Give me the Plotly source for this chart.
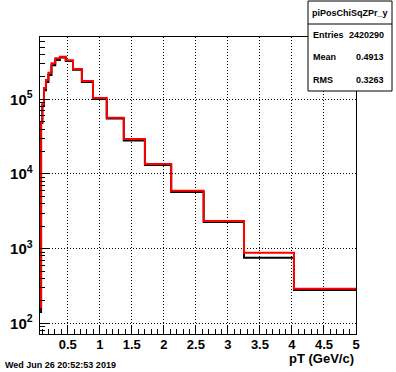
import plotly.graph_objects as go

# Bin edges (pT, GeV/c) and contents
bin_edges = [0.068, 0.084, 0.104, 0.129, 0.160, 0.198, 0.246, 0.305, 0.378, 0.469,
             0.582, 0.721, 0.894, 1.109, 1.375, 1.705, 2.115, 2.622, 3.252, 4.032, 5.0]
red_counts = [165, 49700, 86500, 141700, 181000, 227000, 303000, 354000, 372000, 333000,
              254000, 176000, 104000, 56800, 29400, 13600, 5980, 2340, 883, 291]
black_counts = [142, 48000, 83000, 132000, 170000, 212000, 285000, 335000, 362000, 325000,
                248000, 170600, 101000, 55500, 28100, 13200, 5740, 2270, 757, 279]

stats_title = "piPosChiSqZPr_y"
stats_labels = ["Entries", "Mean", "RMS"]
stats_values = ["2420290", "0.4913", "0.3263"]
date_text = "Wed Jun 26 20:52:53 2019"
x_title = "pT (GeV/c)"

W, H = 396, 372
L, R, T, B = 40, 356, 37, 334


def px(x):
    return (x - L) / (R - L)


def py(y):
    return (B - y) / (B - T)


fig = go.Figure()
fig.add_trace(go.Scatter(x=bin_edges, y=black_counts + [black_counts[-1]], mode="lines",
                         line=dict(color="black", width=2, shape="hv"), hoverinfo="skip"))
fig.add_trace(go.Scatter(x=bin_edges, y=red_counts + [red_counts[-1]], mode="lines",
                         line=dict(color="#ff0000", width=2, shape="hv"), hoverinfo="skip"))

font_x = dict(family="Liberation Sans, Arial, sans-serif", size=13, color="black", weight="bold")
font_y = dict(family="Liberation Sans, Arial, sans-serif", size=12, color="black", weight="bold")

fig.update_layout(
    width=W, height=H,
    margin=dict(l=L, r=W - R, t=T, b=H - B, pad=0),
    paper_bgcolor="white", plot_bgcolor="white",
    showlegend=False,
    xaxis=dict(range=[0.067, 5.0], tick0=0, dtick=0.5, ticks="inside", ticklen=9,
               tickcolor="black", tickwidth=1, showline=True, linecolor="black", linewidth=1,
               mirror=True, showgrid=True, gridcolor="black", griddash="1px,2px", gridwidth=1,
               zeroline=False, tickfont=font_x, automargin=False, ticklabelstandoff=-2,
               minor=dict(dtick=0.1, ticks="inside", ticklen=5, tickcolor="black", showgrid=False)),
    yaxis=dict(type="log", range=[1.857, 5.834], dtick=1, exponentformat="power",
               ticks="inside", ticklen=10, tickcolor="black", tickwidth=1,
               showline=True, linecolor="black", linewidth=1, mirror=True,
               showgrid=True, gridcolor="black", griddash="1px,2px", gridwidth=1,
               zeroline=False, tickfont=font_y, ticklabelstandoff=4, automargin=False,
               minor=dict(dtick="D1", ticks="inside", ticklen=5, tickcolor="black", showgrid=False)),
)

# stats box
bx0, bx1, by0, by1 = 308, 392, 1, 91
fig.add_shape(type="rect", xref="paper", yref="paper", x0=px(bx0), x1=px(bx1), y0=py(by1), y1=py(by0),
              fillcolor="white", line=dict(color="black", width=1), layer="above")
fig.add_shape(type="line", xref="paper", yref="paper", x0=px(bx0), x1=px(bx1), y0=py(24), y1=py(24),
              line=dict(color="black", width=1), layer="above")

small = dict(family="Liberation Sans, Arial, sans-serif", size=9, color="black", weight="bold")
fig.add_annotation(xref="paper", yref="paper", x=px((bx0 + bx1) / 2), y=py(13), text=stats_title,
                   showarrow=False, xanchor="center", yanchor="middle", font=small)
rows_y = [35, 57, 80]
for lab, val, yy in zip(stats_labels, stats_values, rows_y):
    fig.add_annotation(xref="paper", yref="paper", x=px(311), y=py(yy), text=lab, showarrow=False,
                       xanchor="left", yanchor="middle", font=small)
    fig.add_annotation(xref="paper", yref="paper", x=px(386), y=py(yy), text=val, showarrow=False,
                       xanchor="right", yanchor="middle", font=small)

# axis title
fig.add_annotation(xref="paper", yref="paper", x=px(356), y=py(358), text=x_title, showarrow=False,
                   xanchor="right", yanchor="middle", font=font_x)
# date
fig.add_annotation(xref="paper", yref="paper", x=px(3), y=py(365), text=date_text, showarrow=False,
                   xanchor="left", yanchor="middle",
                   font=dict(family="Liberation Sans, Arial, sans-serif", size=9, color="black", weight="bold"))

fig.write_html("out.html", config={"displayModeBar": False},
               post_script="document.body.style.margin='0';document.body.style.padding='0';")
